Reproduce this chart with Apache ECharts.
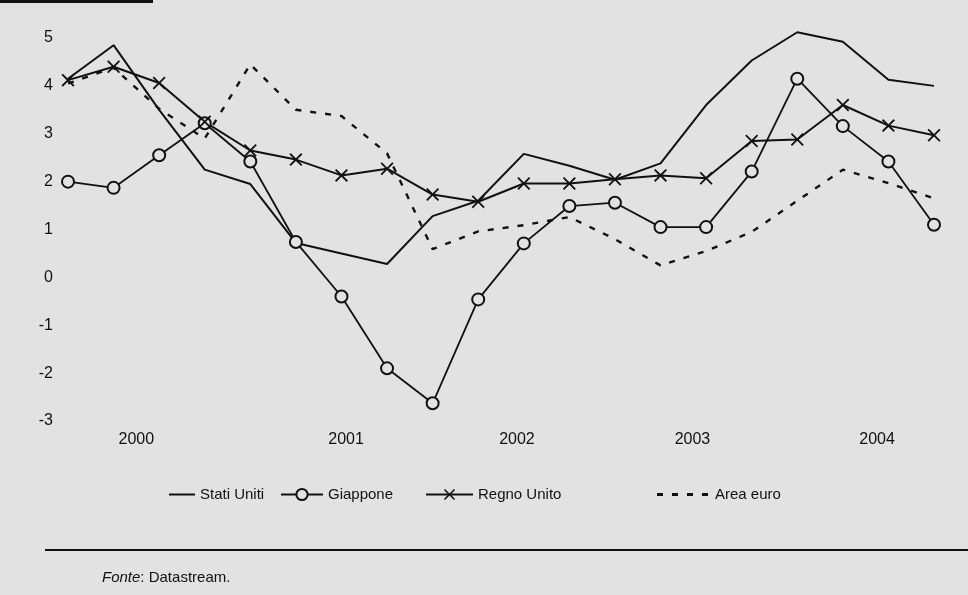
<!DOCTYPE html>
<html>
<head>
<meta charset="utf-8">
<script src="https://cdn.jsdelivr.net/npm/echarts@6/dist/echarts.min.js"></script>
<style>
html,body{margin:0;padding:0;background:#e2e2e2;}
#main{width:968px;height:595px;}
</style>
</head>
<body>
<div id="main"></div>
<script>
// ---- data ----
const quarters = ['2000T1','2000T2','2000T3','2000T4','2001T1','2001T2','2001T3','2001T4',
  '2002T1','2002T2','2002T3','2002T4','2003T1','2003T2','2003T3','2003T4',
  '2004T1','2004T2','2004T3','2004T4'];
const statiUniti = [4.15, 4.85, 3.5, 2.25, 1.95, 0.72, 0.5, 0.28, 1.28, 1.6, 2.58, 2.33, 2.04, 2.38, 3.6, 4.53, 5.12, 4.92, 4.13, 4.0];
const giappone   = [2.0, 1.87, 2.55, 3.22, 2.42, 0.74, -0.4, -1.9, -2.63, -0.46, 0.71, 1.49, 1.56, 1.05, 1.05, 2.21, 4.15, 3.16, 2.42, 1.1];
const regnoUnito = [4.12, 4.4, 4.06, 3.25, 2.65, 2.46, 2.13, 2.27, 1.73, 1.58, 1.96, 1.96, 2.05, 2.13, 2.07, 2.85, 2.88, 3.6, 3.17, 2.97];
const areaEuro   = [4.05, 4.38, 3.52, 2.9, 4.45, 3.5, 3.37, 2.59, 0.59, 0.96, 1.09, 1.26, 0.8, 0.25, 0.55, 0.95, 1.6, 2.25, 1.97, 1.65];
const yearLabels = ['2000','2001','2002','2003','2004'];
const yearLabelAt = [1.5, 6.1, 9.85, 13.7, 17.75]; // quarter-index where each year label sits
const seriesNames = ['Stati Uniti','Giappone','Regno Unito','Area euro'];

const ink = '#111111';
const bg = '#e2e2e2';
const xPath = 'path://M0,1L1,0L5,4L9,0L10,1L6,5L10,9L9,10L5,6L1,10L0,9L4,5Z';
const dashIcon = 'path://M0,0h6v3h-6z M15,0h6v3h-6z M30,0h6v3h-6z M45,0h6v3h-6z';

const chart = echarts.init(document.getElementById('main'), null, {renderer:'canvas'});
const font = '"Liberation Sans", Arial, Helvetica, sans-serif';
const legendText = {fontSize: 15, color: ink, fontFamily: font};
const legendTop = 482;

chart.setOption({
  backgroundColor: bg,
  animation: false,
  textStyle: {fontFamily: font, color: ink},
  title: {
    text: '{i|Fonte}: Datastream.',
    left: 97, top: 565,
    textStyle: {fontSize: 15, fontWeight: 'normal', color: ink, fontFamily: font,
      rich: {i: {fontStyle: 'italic', fontSize: 15, color: ink, fontFamily: font}}}
  },
  legend: [
    {left: 164, top: legendTop, itemWidth: 26, itemHeight: 2, icon: 'rect',
     textStyle: legendText, data: [seriesNames[0]]},
    {left: 275, top: legendTop, itemWidth: 42, itemHeight: 14,
     textStyle: legendText, data: [seriesNames[1]]},
    {left: 420, top: legendTop, itemWidth: 47, itemHeight: 14,
     textStyle: legendText, data: [seriesNames[2]]},
    {left: 652, top: legendTop, itemWidth: 55, itemHeight: 3, icon: dashIcon,
     textStyle: legendText, data: [seriesNames[3]]}
  ],
  grid: {left: 68, right: 34, top: 38, bottom: 174, containLabel: false},
  xAxis: [
    {type: 'category', data: quarters, boundaryGap: false,
     axisLine: {show: false}, axisTick: {show: false}, axisLabel: {show: false}, splitLine: {show: false}},
    {type: 'value', min: 0, max: quarters.length - 1, position: 'bottom',
     axisLine: {show: false}, axisTick: {show: false}, splitLine: {show: false},
     axisLabel: {
       customValues: yearLabelAt, margin: 11, fontSize: 16, color: ink, fontFamily: font,
       formatter: function (v) {
         const i = yearLabelAt.findIndex(p => Math.abs(p - v) < 1e-6);
         return i >= 0 ? yearLabels[i] : '';
       }
     }}
  ],
  yAxis: {
    type: 'value', min: -3, max: 5, interval: 1,
    axisLine: {show: false}, axisTick: {show: false}, splitLine: {show: false},
    axisLabel: {margin: 15, fontSize: 16, color: ink, fontFamily: font}
  },
  series: [
    {name: seriesNames[0], type: 'line', data: statiUniti, symbol: 'none', clip: false,
     lineStyle: {color: ink, width: 2}, itemStyle: {color: ink}},
    {name: seriesNames[1], type: 'line', data: giappone, symbol: 'circle', symbolSize: 12, clip: false,
     lineStyle: {color: ink, width: 1.8},
     itemStyle: {color: bg, borderColor: ink, borderWidth: 2}},
    {name: seriesNames[2], type: 'line', data: regnoUnito, symbol: xPath, symbolSize: 13, clip: false,
     lineStyle: {color: ink, width: 2}, itemStyle: {color: ink}},
    {name: seriesNames[3], type: 'line', data: areaEuro, symbol: 'none', clip: false,
     lineStyle: {color: ink, width: 2.4, type: [6, 9]}, itemStyle: {color: ink}}
  ],
  graphic: [
    {type: 'rect', shape: {x: 0, y: 0, width: 153, height: 3}, style: {fill: ink}},
    {type: 'line', shape: {x1: 45, y1: 550, x2: 968, y2: 550}, style: {stroke: ink, lineWidth: 2}}
  ]
});
</script>
</body>
</html>
